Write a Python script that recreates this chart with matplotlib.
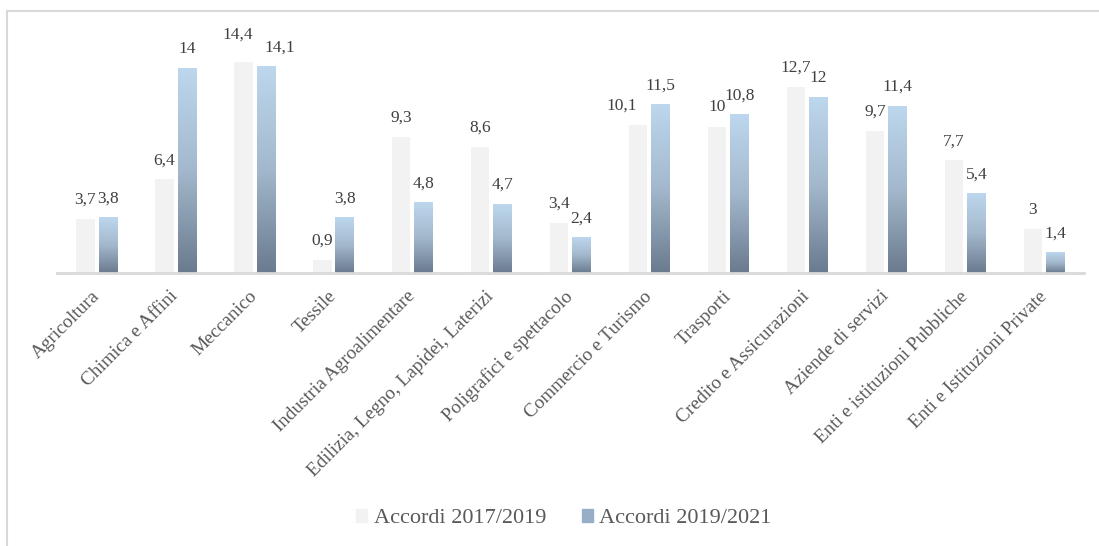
import numpy as np
import matplotlib
matplotlib.use("Agg")
import matplotlib.pyplot as plt
from matplotlib.colors import LinearSegmentedColormap
from matplotlib.lines import Line2D
from matplotlib.patches import Patch

settori = ["Agricoltura", "Chimica e Affini", "Meccanico", "Tessile",
           "Industria Agroalimentare", "Edilizia, Legno, Lapidei, Laterizi",
           "Poligrafici e spettacolo", "Commercio e Turismo", "Trasporti",
           "Credito e Assicurazioni", "Aziende di servizi",
           "Enti e istituzioni Pubbliche", "Enti e Istituzioni Private"]
accordi_2017 = [3.7, 6.4, 14.4, 0.9, 9.3, 8.6, 3.4, 10.1, 10, 12.7, 9.7, 7.7, 3]
accordi_2019 = [3.8, 14, 14.1, 3.8, 4.8, 4.7, 2.4, 11.5, 10.8, 12, 11.4, 5.4, 1.4]
serie = ["Accordi 2017/2019", "Accordi 2019/2021"]

plt.rcParams['font.family'] = ['Liberation Serif', 'DejaVu Serif']

fig = plt.figure(figsize=(10.99, 5.46), dpi=100)
ax = fig.add_axes([0.052, 0.5, 0.934, 0.429])

x = np.arange(len(settori))
w = 0.234
off = 0.142

b1 = ax.bar(x - off, accordi_2017, w, color='#F2F2F2', zorder=2)
b2 = ax.bar(x + off, accordi_2019, w, color='none', zorder=2)

# gradient fill on the second series
grad = LinearSegmentedColormap.from_list('g', ['#6A7A8F', '#A3B8CC', '#BDD7EE'])
col = np.linspace(0, 1, 256).reshape(-1, 1)
for b in b2:
    x0, h = b.get_x(), b.get_height()
    ax.imshow(col, cmap=grad, origin='lower', aspect='auto', zorder=2,
              extent=[x0, x0 + b.get_width(), 0, h])

def fmt(v):
    return ('%g' % v).replace('.', ',')

# labels nudged sideways/up where they would collide (points)
nudge = {(0, 2): (-4, 6), (1, 2): (10, 0), (0, 7): (-12, 0)}

for k, (bars, vals) in enumerate(((b1, accordi_2017), (b2, accordi_2019))):
    for i, (b, v) in enumerate(zip(bars, vals)):
        dx, dy = nudge.get((k, i), (0, 0))
        ax.annotate(fmt(v), (b.get_x() + b.get_width() / 2, v),
                    xytext=(dx, 8 + dy), textcoords='offset points',
                    ha='center', va='bottom', fontsize=12.5, color='#404040')

ax.set_xlim(-0.5, len(settori) - 0.5)
ax.set_ylim(0, 16)
ax.set_yticks([])
ax.set_xticks(x)
ax.set_xticklabels(settori, rotation=45, ha='right', va='center',
                   rotation_mode='anchor', fontsize=13.8, color='#595959')
ax.tick_params(axis='x', length=0, pad=15)
for s in ('top', 'right', 'left'):
    ax.spines[s].set_visible(False)
ax.spines['bottom'].set_color('#D9D9D9')
ax.spines['bottom'].set_linewidth(2)

handles = [Patch(color='#F2F2F2'), Patch(color='#97AEC6')]
fig.legend(handles, serie, loc='center', bbox_to_anchor=(0.513, 0.05),
           ncol=2, frameon=False, fontsize=16, labelcolor='#595959',
           handlelength=0.5, handleheight=0.5, handletextpad=0.3,
           columnspacing=1.6)

# outer frame
fig.add_artist(Line2D([0.0064, 1], [0.979, 0.979], color='#D9D9D9', lw=1.5,
                      transform=fig.transFigure))
fig.add_artist(Line2D([0.0064, 0.0064], [0, 0.979], color='#D9D9D9', lw=1.5,
                      transform=fig.transFigure))

fig.savefig("out.png", dpi=100)
